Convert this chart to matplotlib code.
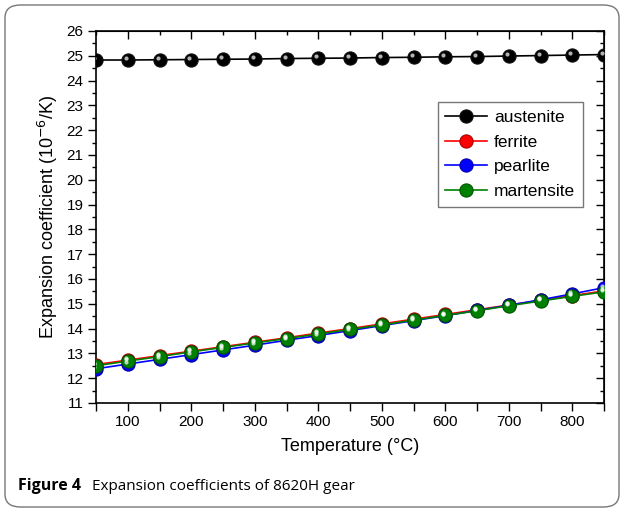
import matplotlib.pyplot as plt
from matplotlib.patches import FancyBboxPatch
from matplotlib.ticker import MultipleLocator
from matplotlib.transforms import offset_copy

plt.rcParams['font.family'] = ['Liberation Sans', 'DejaVu Sans']

# temperature (°C) and expansion coefficients (1e-6/K)
temp = [50, 100, 150, 200, 250, 300, 350, 400, 450, 500, 550, 600, 650, 700, 750, 800, 850]
austenite = [24.83, 24.83, 24.84, 24.85, 24.86, 24.87, 24.89, 24.90, 24.91, 24.93,
             24.94, 24.96, 24.97, 24.99, 25.01, 25.03, 25.05]
ferrite = [12.55, 12.73, 12.91, 13.09, 13.27, 13.45, 13.63, 13.82, 14.00, 14.19,
           14.38, 14.57, 14.76, 14.95, 15.14, 15.33, 15.52]
pearlite = [12.38, 12.57, 12.76, 12.95, 13.14, 13.33, 13.53, 13.72, 13.92, 14.12,
            14.32, 14.52, 14.73, 14.94, 15.16, 15.40, 15.65]
martensite = [12.50, 12.69, 12.87, 13.06, 13.24, 13.42, 13.60, 13.78, 13.97, 14.15,
              14.34, 14.53, 14.72, 14.92, 15.11, 15.30, 15.48]

series = [('austenite', austenite, 'black', '#111111'),
          ('ferrite', ferrite, 'red', '#aa0000'),
          ('pearlite', pearlite, 'blue', '#0000aa'),
          ('martensite', martensite, 'green', '#005500')]

fig = plt.figure(figsize=(6.24, 5.12), dpi=100)
ax = fig.add_axes([96 / 624, 1 - 403 / 512, 508 / 624, 372 / 512])

hl = offset_copy(ax.transData, fig=fig, x=-1.4, y=1.4, units='points')
for name, vals, col, edge in series:
    ax.plot(temp, vals, '-', color=col, lw=1.2, marker='o', ms=9.5,
            mfc=col, mec=edge, mew=0.8, label=name, zorder=3)
    ax.plot(temp, vals, 'o', color='white', ms=3, alpha=0.7, mew=0,
            transform=hl, zorder=4)

ax.set_xlim(50, 850)
ax.set_ylim(11, 26)
ax.xaxis.set_major_locator(MultipleLocator(100))
ax.xaxis.set_minor_locator(MultipleLocator(50))
ax.yaxis.set_major_locator(MultipleLocator(1))
ax.yaxis.set_minor_locator(MultipleLocator(0.5))
ax.tick_params(axis='both', which='major', direction='out', length=6, width=1,
               labelsize=11, pad=3)
ax.tick_params(axis='x', which='minor', direction='out', length=6, width=1)
ax.tick_params(axis='y', which='minor', direction='out', length=3, width=1)
for s in ax.spines.values():
    s.set_linewidth(1.2)

top = ax.secondary_xaxis('top')
top.xaxis.set_major_locator(MultipleLocator(100))
top.xaxis.set_minor_locator(MultipleLocator(50))
top.tick_params(which='major', direction='in', length=6, width=1, labeltop=False)
top.tick_params(which='minor', direction='in', length=3, width=1)
right = ax.secondary_yaxis('right')
right.yaxis.set_major_locator(MultipleLocator(1))
right.yaxis.set_minor_locator(MultipleLocator(0.5))
right.tick_params(which='major', direction='in', length=6, width=1, labelright=False)
right.tick_params(which='minor', direction='in', length=3, width=1)

ax.set_xlabel('Temperature (°C)', fontsize=13, labelpad=6)
ax.set_ylabel('Expansion coefficient (10$^{-6}$/K)', fontsize=13, labelpad=5)

leg = ax.legend(loc='upper right', bbox_to_anchor=(583 / 624, 1 - 102 / 512),
                bbox_transform=fig.transFigure, fontsize=12.5, frameon=True,
                fancybox=False, edgecolor='#555555', handlelength=2.4,
                borderpad=0.45, labelspacing=0.55, handletextpad=0.4,
                borderaxespad=0)
leg.get_frame().set_linewidth(1.0)

frame = FancyBboxPatch((5 / 624, 5 / 512), 614 / 624, 502 / 512,
                       boxstyle='round,pad=0,rounding_size=0.025',
                       transform=fig.transFigure, fill=False,
                       edgecolor='#777777', lw=1.0)
fig.patches.append(frame)

fig.text(18 / 624, 1 - 486 / 512, 'Figure 4', fontsize=11.5, fontweight='bold',
         family=['Open Sans', 'DejaVu Sans'], va='center')
fig.text(92 / 624, 1 - 486 / 512, 'Expansion coefficients of 8620H gear',
         fontsize=11, family=['Open Sans', 'DejaVu Sans'], va='center')

fig.savefig('out.png', dpi=100)
